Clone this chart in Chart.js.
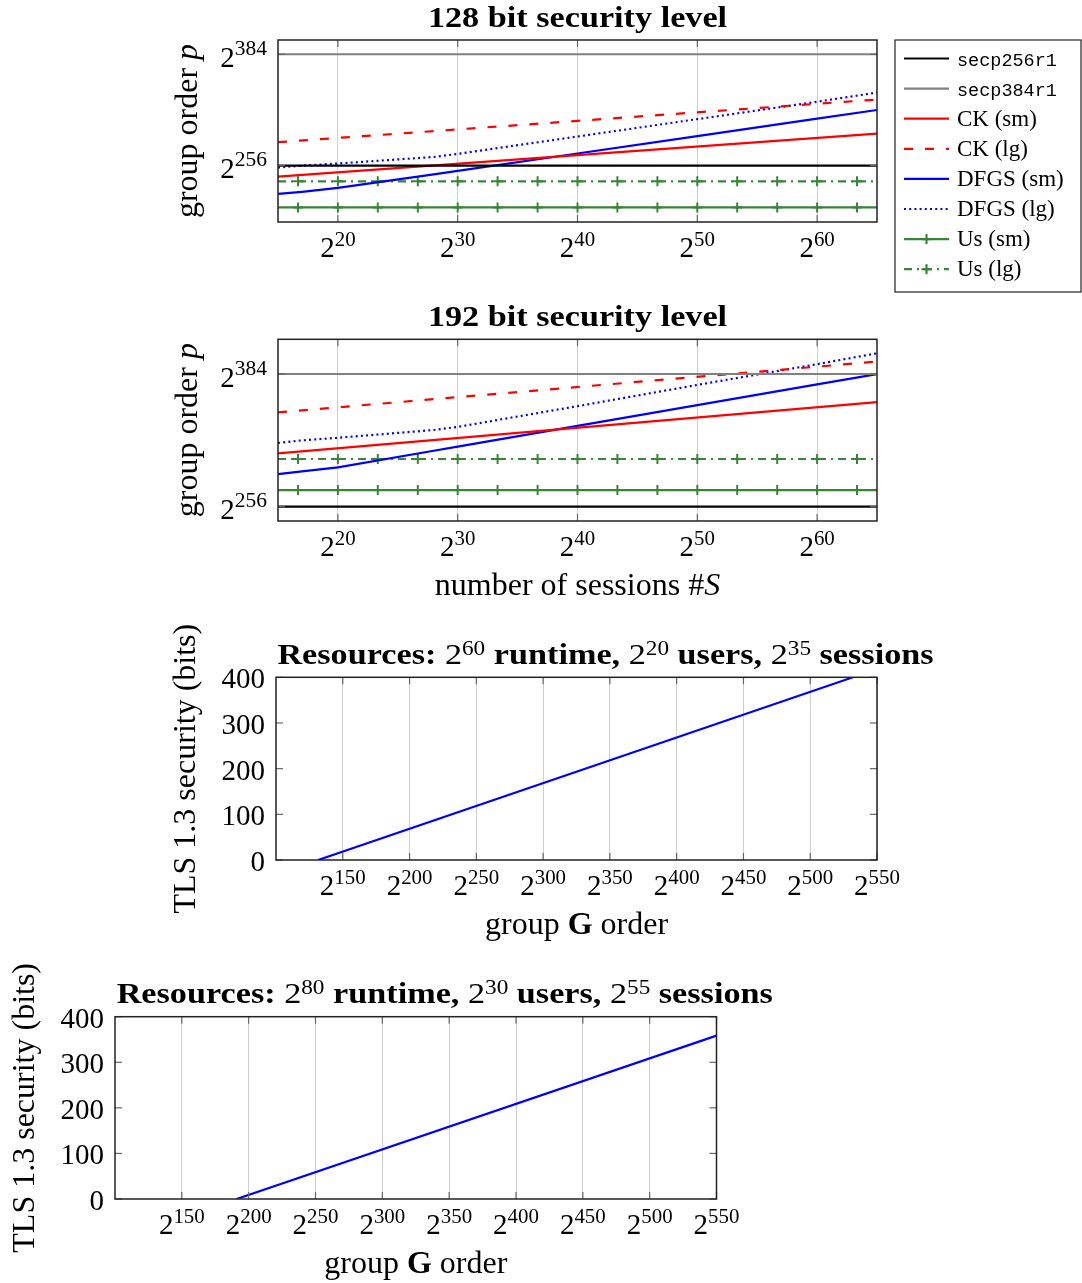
<!DOCTYPE html>
<html>
<head>
<meta charset="utf-8">
<script src="https://cdn.jsdelivr.net/npm/chart.js@4.4.1/dist/chart.umd.min.js"></script>
<style>
  body { margin: 0; background: #fff; }
  #wrap { position: relative; width: 1082px; height: 1283px; overflow: hidden; }
  canvas { position: absolute; left: 0; }
</style>
</head>
<body>
<div id="wrap">
  <canvas id="sec128" width="1082" height="300" style="top:0"></canvas>
  <canvas id="sec192" width="1082" height="310" style="top:300px"></canvas>
  <canvas id="res1" width="1082" height="340" style="top:610px"></canvas>
  <canvas id="res2" width="1082" height="333" style="top:950px"></canvas>
</div>
<script>
// ---- data (all values are log2) ----
// x: log2 #S, y: log2 p
const LINE_X = [15, 65];
const SECP256 = [256, 256];
const SECP384 = [384, 384];

const CK_SM_128 = [243.4, 292.8];
const CK_LG_128 = [283, 332];
const CK_SM_192 = [307.4, 356.8];
const CK_LG_192 = [347, 396];

const DFGS_X = [15, 17, 20, 28, 30, 40, 50, 60, 65];
const DFGS_SM_128 = [223.5, 226, 230.5, 246, 250, 270, 290, 310, 320];
const DFGS_LG_128 = [254, 256, 258.5, 266, 269.5, 289.5, 309.5, 329.5, 340];
const DFGS_SM_192 = [287.5, 290, 294, 310, 314, 334, 354, 374, 384];
const DFGS_LG_192 = [317.5, 320, 322.5, 330, 333, 353, 373.5, 393.5, 404];

const US_X = [15, 16.67, 20, 23.33, 26.67, 30, 33.33, 36.67, 40, 43.33, 46.67, 50, 53.33, 56.67, 60, 63.33, 65];
const US_SM_128 = [208, 208, 208, 208, 208, 208, 208, 208, 208, 208, 208, 208, 208, 208, 208, 208, 208];
const US_LG_128 = [238, 238, 238, 238, 238, 238, 238, 238, 238, 238, 238, 238, 238, 238, 238, 238, 238];
const US_SM_192 = [272, 272, 272, 272, 272, 272, 272, 272, 272, 272, 272, 272, 272, 272, 272, 272, 272];
const US_LG_192 = [302, 302, 302, 302, 302, 302, 302, 302, 302, 302, 302, 302, 302, 302, 302, 302, 302];

const SESSION_TICKS = [20, 30, 40, 50, 60];
const ORDER_TICKS = [256, 384];

// x: log2 |G|, y: TLS 1.3 security in bits
const GROUP_1 = [131.5, 532];
const TLS_SEC_1 = [0, 400];
const GROUP_2 = [191, 550];
const TLS_SEC_2 = [0, 358.5];

const GROUP_TICKS = [150, 200, 250, 300, 350, 400, 450, 500, 550];
const BITS_TICKS = [0, 100, 200, 300, 400];

// ---- drawing helpers ----
const SERIF = '"Liberation Serif", "DejaVu Serif", serif';
const MONO = '"Liberation Mono", "DejaVu Sans Mono", monospace';
const GREEN = '#388538';

function fontOf(r, size) {
    return (r.i ? 'italic ' : '') + (r.b ? 'bold ' : '') + size + 'px ' + (r.m ? MONO : SERIF);
}

function drawRuns(ctx, runs, x, y, size, align, opt = {}) {
    const sx = opt.stretch || 1;
    const supK = opt.supK || 0.68;
    const raise = opt.raise || size * 0.42;
    let w = 0;
    runs.forEach(r => {
        ctx.font = fontOf(r, r.sup ? size * supK : size);
        w += ctx.measureText(r.t).width;
    });
    w *= sx;
    const x0 = align === 'center' ? x - w / 2 : align === 'right' ? x - w : x;
    ctx.save();
    ctx.translate(x0, y);
    ctx.scale(sx, 1);
    ctx.textAlign = 'left';
    ctx.textBaseline = 'alphabetic';
    ctx.fillStyle = '#000';
    let cx = 0;
    runs.forEach(r => {
        ctx.font = fontOf(r, r.sup ? size * supK : size);
        ctx.fillText(r.t, cx, r.sup ? -raise : 0);
        cx += ctx.measureText(r.t).width;
    });
    ctx.restore();
}

function tickRuns(v, pow) {
    return pow ? [{ t: '2' }, { t: String(v), sup: true }] : [{ t: String(v) }];
}

function seg(ctx, x1, y1, x2, y2) {
    ctx.beginPath();
    ctx.moveTo(x1, y1);
    ctx.lineTo(x2, y2);
    ctx.stroke();
}

function drawLegend(chart, ctx, ca) {
    const lx = ca.right + 18, ly = ca.top;
    ctx.save();
    ctx.strokeStyle = '#222';
    ctx.lineWidth = 1.2;
    ctx.strokeRect(lx, ly, 1081 - lx, 252);
    chart.data.datasets.forEach((ds, i) => {
        const y = ly + 18.5 + i * 30.1;
        ctx.save();
        ctx.strokeStyle = ds.borderColor;
        ctx.lineWidth = ds.borderWidth;
        ctx.setLineDash(ds.borderDash || []);
        seg(ctx, lx + 9, y, lx + 54, y);
        ctx.setLineDash([]);
        if (ds.pointStyle === 'cross') {
            seg(ctx, lx + 31.5, y - 5, lx + 31.5, y + 5);
            seg(ctx, lx + 26.5, y, lx + 36.5, y);
        }
        ctx.restore();
        drawRuns(ctx, [{ t: ds.label, m: ds.mono }], lx + 62, y + 7, ds.mono ? 18.5 : 23, 'left');
    });
    ctx.restore();
}

// frame, inner tick marks, tick labels, titles, legend
const texPlot = {
    id: 'texPlot',
    afterDraw(chart, args, o) {
        const ctx = chart.ctx, ca = chart.chartArea;
        const xs = chart.scales.x, ys = chart.scales.y;
        ctx.save();
        ctx.strokeStyle = '#666';
        ctx.lineWidth = 1.2;
        xs.ticks.forEach(t => {
            const px = xs.getPixelForValue(t.value);
            seg(ctx, px, ca.bottom, px, ca.bottom - 7);
            seg(ctx, px, ca.top, px, ca.top + 7);
        });
        ys.ticks.forEach(t => {
            const py = ys.getPixelForValue(t.value);
            seg(ctx, ca.left, py, ca.left + 7, py);
            seg(ctx, ca.right, py, ca.right - 7, py);
        });
        ctx.strokeStyle = '#222';
        ctx.lineWidth = 1.5;
        ctx.strokeRect(ca.left, ca.top, ca.right - ca.left, ca.bottom - ca.top);

        xs.ticks.forEach(t => {
            drawRuns(ctx, tickRuns(t.value, o.xPow), xs.getPixelForValue(t.value), ca.bottom + 35, 29, 'center', { supK: 0.72, raise: 11.5 });
        });
        ys.ticks.forEach(t => {
            const py = ys.getPixelForValue(t.value);
            drawRuns(ctx, tickRuns(t.value, o.yPow), ca.left - 11, py + (o.yPow ? 12.5 : 11), 29, 'right', { supK: 0.74, raise: 12 });
        });

        const cx = (ca.left + ca.right) / 2;
        drawRuns(ctx, o.title, cx + (o.titleShift || 0), ca.top - 13.5, 30, 'center', { stretch: 1.14, raise: 9 });
        if (o.xTitle) drawRuns(ctx, o.xTitle, cx, ca.bottom + 74, 32, 'center');
        ctx.save();
        ctx.translate(ca.left - 81, (ca.top + ca.bottom) / 2);
        ctx.rotate(-Math.PI / 2);
        drawRuns(ctx, o.yTitle, 0, 0, 32, 'center');
        ctx.restore();

        if (o.legend) drawLegend(chart, ctx, ca);
        ctx.restore();
    }
};

function pts(xs, ys) {
    return xs.map((x, i) => ({ x: x, y: ys[i] }));
}

function series(label, xs, ys, color, extra) {
    return Object.assign({
        label: label,
        data: pts(xs, ys),
        borderColor: color,
        backgroundColor: color,
        borderWidth: 2.2,
        pointRadius: 0,
        fill: false
    }, extra || {});
}

function usMarks(ctx) {
    return (ctx.dataIndex === 0 || ctx.dataIndex === US_X.length - 1) ? 0 : 5;
}

function sessionDatasets(ckSm, ckLg, dfSm, dfLg, usSm, usLg) {
    return [
        series('secp256r1', LINE_X, SECP256, '#000000', { mono: true }),
        series('secp384r1', LINE_X, SECP384, '#808080', { mono: true }),
        series('CK (sm)', LINE_X, ckSm, '#ff0000'),
        series('CK (lg)', LINE_X, ckLg, '#ff0000', { borderDash: [9, 12] }),
        series('DFGS (sm)', DFGS_X, dfSm, '#0000ff'),
        series('DFGS (lg)', DFGS_X, dfLg, '#0000ff', { borderDash: [2, 3.2] }),
        series('Us (sm)', US_X, usSm, GREEN, { pointStyle: 'cross', pointRadius: usMarks, pointBorderWidth: 2, pointBorderColor: GREEN }),
        series('Us (lg)', US_X, usLg, GREEN, { borderDash: [8, 5, 2, 5], pointStyle: 'cross', pointRadius: usMarks, pointBorderWidth: 2, pointBorderColor: GREEN })
    ];
}

function makeChart(id, cfg) {
    return new Chart(document.getElementById(id), {
        type: 'line',
        data: { datasets: cfg.datasets },
        options: {
            responsive: false,
            animation: false,
            events: [],
            layout: { padding: cfg.padding, autoPadding: false },
            plugins: {
                legend: { display: false },
                tooltip: { enabled: false },
                texPlot: cfg.tex
            },
            scales: {
                x: {
                    type: 'linear',
                    min: cfg.xMin,
                    max: cfg.xMax,
                    afterBuildTicks: s => { s.ticks = cfg.xTicks.map(v => ({ value: v })); },
                    afterFit: s => { s.height = 0; },
                    ticks: { display: false },
                    grid: { color: '#cfcfcf', lineWidth: 1, drawTicks: false },
                    border: { display: false }
                },
                y: {
                    type: 'linear',
                    min: cfg.yMin,
                    max: cfg.yMax,
                    afterBuildTicks: s => { s.ticks = cfg.yTicks.map(v => ({ value: v })); },
                    afterFit: s => { s.width = 0; },
                    ticks: { display: false },
                    grid: { display: false },
                    border: { display: false }
                }
            }
        },
        plugins: [texPlot]
    });
}

const orderTitle = [{ t: 'group order ' }, { t: 'p', i: true }];
const bitsTitle = [{ t: 'TLS 1.3 security (bits)' }];
const groupTitle = [{ t: 'group ' }, { t: 'G', b: true }, { t: ' order' }];

makeChart('sec128', {
    datasets: sessionDatasets(CK_SM_128, CK_LG_128, DFGS_SM_128, DFGS_LG_128, US_SM_128, US_LG_128),
    padding: { left: 278, top: 40, right: 205, bottom: 78 },
    xMin: 15, xMax: 65, xTicks: SESSION_TICKS,
    yMin: 191.3, yMax: 400.4, yTicks: ORDER_TICKS,
    tex: { xPow: true, yPow: true, legend: true,
           title: [{ t: '128 bit security level', b: true }], yTitle: orderTitle }
});

makeChart('sec192', {
    datasets: sessionDatasets(CK_SM_192, CK_LG_192, DFGS_SM_192, DFGS_LG_192, US_SM_192, US_LG_192),
    padding: { left: 278, top: 39.3, right: 205, bottom: 89 },
    xMin: 15, xMax: 65, xTicks: SESSION_TICKS,
    yMin: 242.2, yMax: 417.5, yTicks: ORDER_TICKS,
    tex: { xPow: true, yPow: true,
           title: [{ t: '192 bit security level', b: true }], yTitle: orderTitle,
           xTitle: [{ t: 'number of sessions #' }, { t: 'S', i: true }] }
});

makeChart('res1', {
    datasets: [series('TLS 1.3', GROUP_1, TLS_SEC_1, '#0000ff')],
    padding: { left: 276, top: 67.3, right: 205, bottom: 90 },
    xMin: 100, xMax: 550, xTicks: GROUP_TICKS,
    yMin: 0, yMax: 400, yTicks: BITS_TICKS,
    tex: { xPow: true, yPow: false, titleShift: 29,
           title: [{ t: 'Resources: ', b: true }, { t: '2' }, { t: '60', sup: true }, { t: ' runtime, ', b: true },
                   { t: '2' }, { t: '20', sup: true }, { t: ' users, ', b: true },
                   { t: '2' }, { t: '35', sup: true }, { t: ' sessions', b: true }],
           yTitle: bitsTitle, xTitle: groupTitle }
});

makeChart('res2', {
    datasets: [series('TLS 1.3', GROUP_2, TLS_SEC_2, '#0000ff')],
    padding: { left: 115, top: 66.7, right: 365.5, bottom: 84 },
    xMin: 100, xMax: 550, xTicks: GROUP_TICKS,
    yMin: 0, yMax: 400, yTicks: BITS_TICKS,
    tex: { xPow: true, yPow: false, titleShift: 29,
           title: [{ t: 'Resources: ', b: true }, { t: '2' }, { t: '80', sup: true }, { t: ' runtime, ', b: true },
                   { t: '2' }, { t: '30', sup: true }, { t: ' users, ', b: true },
                   { t: '2' }, { t: '55', sup: true }, { t: ' sessions', b: true }],
           yTitle: bitsTitle, xTitle: groupTitle }
});
</script>
</body>
</html>
